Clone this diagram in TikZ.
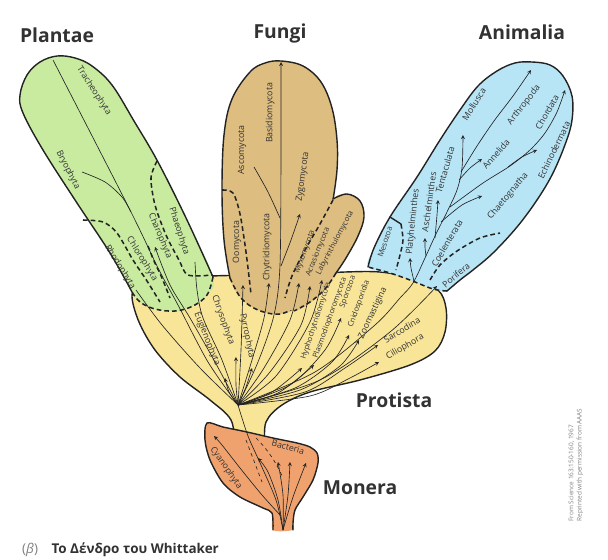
\documentclass[tikz,border=0pt]{standalone}
\usepackage{fontspec}
\setmainfont{Open Sans}
\definecolor{plantgreen}{RGB}{200,235,160}
\definecolor{fungustan}{RGB}{221,189,128}
\definecolor{animalblue}{RGB}{184,229,245}
\definecolor{protistyellow}{RGB}{248,229,152}
\definecolor{moneraorange}{RGB}{240,162,110}
\definecolor{outl}{RGB}{35,35,35}
\definecolor{txt}{RGB}{50,50,50}

\begin{document}
\begin{tikzpicture}[x=0.03cm, y=-0.03cm, every node/.style={font=\fontsize{7.5}{8}\selectfont, text=txt, inner sep=0pt}, rim/.style={draw=outl, line width=1.2pt, line join=round, line cap=round}, seam/.style={draw=outl, line width=1.3pt, dash pattern=on 4pt off 2.6pt}, twig/.style={draw=outl, line width=0.55pt}, arr/.style={twig, ->, >=stealth}, realm/.style={font=\fontsize{16.5}{18}\selectfont\bfseries}, wee/.style={font=\fontsize{6.5}{7}\selectfont}]
    \useasboundingbox (0,0) rectangle (608,560);
    \coordinate (O) at (238,405);
    \coordinate (root) at (283,530);

    % Protista
    \draw[rim, fill=protistyellow] plot[smooth cycle, tension=0.55] coordinates {(238,450) (231,420) (210,400) (180,377) (155,350) (139,322) (132,296) (140,283) (175,279) (212,276) (260,275) (310,274) (345,272) (380,272) (412,278) (438,290) (446,308) (445,332) (435,351) (410,365) (360,380) (310,392) (282,405) (266,422) (262,450)};

    % Plantae
    \fill[plantgreen] plot[smooth cycle, tension=0.6] coordinates {(132,292) (110,253) (77,203) (43,150) (23,113) (20,95) (27,75) (40,62) (57,56) (75,58) (92,66) (112,85) (134,121) (158,162) (187,220) (213,277) (207,295) (193,306) (175,311) (155,309) (140,302)};
    \draw[rim] plot[smooth, tension=0.6] coordinates {(132,292) (110,253) (77,203) (43,150) (23,113) (20,95) (27,75) (40,62) (57,56) (75,58) (92,66) (112,85) (134,121) (158,162) (187,220) (213,277)};
    \draw[seam] plot[smooth, tension=0.6] coordinates {(213,277) (207,295) (193,306) (175,311) (155,309) (140,302) (132,292)};
    \draw[seam] plot[smooth] coordinates {(157,161) (151,178) (155,205) (166,235) (179,260) (188,275) (212,275)};
    \draw[seam] plot[smooth] coordinates {(83,220) (103,222) (117,233) (133,260) (147,281) (160,302)};
    \draw[seam] plot[smooth] coordinates {(148,246) (154,261) (162,278) (170,298)};

    % Fungi
    \fill[fungustan] plot[smooth cycle, tension=0.6] coordinates {(281,61) (303,66) (321,82) (332,108) (337,140) (337,170) (333,200) (326,240) (316,275) (300,305) (280,314) (258,310) (241,298) (230,278) (224,240) (222,190) (224,135) (232,99) (250,72) (265,63)};
    \draw[rim] plot[smooth, tension=0.6] coordinates {(230,278) (224,240) (222,190) (224,135) (232,99) (250,72) (265,63) (281,61) (303,66) (321,82) (332,108) (337,140) (337,170) (333,200)};
    \draw[seam] plot[smooth, tension=0.6] coordinates {(230,278) (241,298) (258,310) (280,314) (300,305)};
    \draw[seam] plot[smooth] coordinates {(222,190) (233,193) (240,214) (246,252) (251,294)};
    \fill[fungustan] plot[smooth cycle, tension=0.6] coordinates {(333,199) (347,194) (360,201) (364,217) (358,236) (346,258) (332,280) (314,300) (294,311) (284,300) (291,276) (305,250) (320,224)};
    \draw[rim] plot[smooth, tension=0.6] coordinates {(333,199) (347,194) (360,201) (364,217) (358,236) (346,258) (336,273)};
    \draw[seam] plot[smooth, tension=0.6] coordinates {(336,273) (325,289) (310,302) (294,311)};
    \draw[seam] plot[smooth, tension=0.6] coordinates {(333,200) (320,224) (305,250) (292,276) (285,298)};

    % Animalia
    \fill[animalblue] plot[smooth cycle, tension=0.6] coordinates {(368,267) (374,248) (390,217) (417,177) (440,140) (460,110) (478,86) (497,71) (515,63) (532,62) (550,65) (563,76) (572,96) (572,120) (566,142) (553,173) (537,200) (517,227) (493,253) (473,270) (460,280) (447,291) (433,289) (410,280) (390,273)};
    \draw[rim] plot[smooth, tension=0.6] coordinates {(368,267) (374,248) (390,217) (417,177) (440,140) (460,110) (478,86) (497,71) (515,63) (532,62) (550,65) (563,76) (572,96) (572,120) (566,142) (553,173) (537,200) (517,227) (493,253) (473,270) (460,280) (447,291)};
    \draw[seam] plot[smooth, tension=0.6] coordinates {(447,291) (433,289) (410,280) (390,273) (368,267)};
    \draw[rim] (390,217) -- (401,224);
    \draw[seam] plot[smooth] coordinates {(401,224) (403,240) (400,255) (396,270)};
    \draw[seam] plot[smooth] coordinates {(430,280) (440,265) (457,251) (480,238) (500,233)};

    % Monera
    \fill[moneraorange] plot[smooth cycle, tension=0.5] coordinates {(207,423) (223,427) (247,432) (273,438) (297,443) (310,447) (317,453) (318,463) (313,480) (303,497) (295,510) (293,523) (293,530) (273,530) (272,513) (263,508) (240,497) (223,483) (210,460) (205,440)};
    \draw[rim] plot[smooth, tension=0.5] coordinates {(293,530) (293,523) (295,510) (303,497) (313,480) (318,463) (317,453) (310,447) (297,443) (273,438) (247,432) (223,427) (207,423) (205,440) (210,460) (223,483) (240,497) (263,508) (272,513) (273,530)};

    % lines of descent
    \draw[twig] plot[smooth] coordinates {(root) (276,500) (261,465) (248,436) (O)};
    \draw[arr] plot[smooth] coordinates {(281,516) (262,495) (240,468) (222,445) (214,436)};
    \draw[twig, dashed] (246,440) -- (262,482);
    \draw[twig, dashed] (256,438) .. controls (268,450) and (276,462) .. (283,478);
    \draw[arr] plot[smooth] coordinates {(root) (278,500) (268,472) (258,458)};
    \draw[arr] plot[smooth] coordinates {(root) (283,495) (278,462)};
    \draw[arr] plot[smooth] coordinates {(root) (288,495) (290,462)};
    \draw[arr] plot[smooth] coordinates {(root) (293,497) (306,463)};

    \draw[twig] plot[smooth] coordinates {(O) (200,368) (162,325) (136,290)};
    \draw[twig] plot[smooth] coordinates {(O) (208,362) (178,305) (158,268) (130,210) (53,60)};
    \draw[twig] plot[smooth] coordinates {(82,172) (105,182) (122,197) (131,212)};
    \draw[arr] plot[smooth] coordinates {(O) (215,362) (190,318) (170,285) (155,247)};
    \draw[twig] plot[smooth] coordinates {(O) (222,360) (203,318) (197,290) (195,262)};
    \draw[arr] plot[smooth] coordinates {(O) (229,392) (225,378)};
    \draw[arr] plot[smooth] coordinates {(O) (236,385) (236,357)};
    \draw[arr] plot[smooth] coordinates {(O) (246,387) (252,368)};

    \draw[arr] plot[smooth] coordinates {(O) (241,350) (243,285)};
    \draw[arr] plot[smooth] coordinates {(O) (252,360) (264,318) (269,283)};
    \draw[arr] plot[smooth] coordinates {(O) (258,362) (274,315) (280,265) (281,150) (281,62)};
    \draw[twig] plot[smooth] coordinates {(280,218) (268,192) (254,167)};
    \draw[arr] plot[smooth] coordinates {(281,266) (291,240) (300,214)};
    \draw[arr] plot[smooth] coordinates {(O) (264,368) (290,320) (299,283)};
    \draw[arr] plot[smooth] coordinates {(O) (270,372) (301,325) (310,286)};
    \draw[arr] plot[smooth] coordinates {(O) (276,376) (310,322) (322,280)};

    \draw[arr] plot[smooth] coordinates {(O) (272,392) (302,368)};
    \draw[arr] plot[smooth] coordinates {(O) (278,393) (314,365)};
    \draw[arr] plot[smooth] coordinates {(O) (290,385) (325,350) (341,318)};
    \draw[arr] plot[smooth] coordinates {(O) (295,388) (332,362) (349,335)};
    \draw[arr] plot[smooth] coordinates {(O) (300,390) (340,366) (359,340)};
    \draw[arr] plot[smooth] coordinates {(O) (305,392) (345,368) (378,345)};
    \draw[arr] plot[smooth] coordinates {(O) (310,396) (350,378) (379,362)};

    \draw[arr] plot[smooth] coordinates {(O) (315,372) (375,325) (400,298) (413,283) (425,258) (436,234) (447,212) (457,190) (462,168) (463,135)};
    \draw[arr] plot[smooth] coordinates {(O) (320,380) (390,332) (437,286)};
    \draw[arr] plot[smooth] coordinates {(461,172) (477,146) (494,121) (513,96) (531,70)};
    \draw[arr] plot[smooth] coordinates {(459,180) (470,168) (482,159)};
    \draw[arr] plot[smooth] coordinates {(450,207) (483,183) (510,166) (530,150) (545,133) (557,112) (565,90)};
    \draw[arr] plot[smooth] coordinates {(508,167) (522,157) (537,150)};
    \draw[arr] plot[smooth] coordinates {(441,222) (462,205) (482,196)};
    \draw[arr] plot[smooth] coordinates {(435,238) (437,215) (438,200)};
    \draw[arr] plot[smooth] coordinates {(426,256) (425,247) (425,238)};
    \draw[arr] plot[smooth] coordinates {(414,281) (411,268) (410,258)};

    % kingdoms
    \node[realm] (plantae) at (57,35) {Plantae};
    \node[realm] (fungi) at (280,33) {Fungi};
    \node[realm] (animalia) at (522,32) {Animalia};
    \node[realm] (protista) at (394,400) {Protista};
    \node[realm] (monera) at (360,488) {Monera};

    % phyla
    \node[rotate=-57] (trach) at (94,91) {Tracheophyta};
    \node[rotate=-63] (bryo) at (68,170) {Bryophyta};
    \node[rotate=-72] (phaeo) at (179,231) {Phaeophyta};
    \node[rotate=-67] (charo) at (160,236) {Charophyta};
    \node[rotate=-58] (chloro) at (142,259) {Chlorophyta};
    \node[rotate=-58] (rhodo) at (120,267) {Rhodophyta};

    \node[rotate=90] (asco) at (242,150) {Ascomycota};
    \node[rotate=90] (basidio) at (270,113) {Basidiomycota};
    \node[rotate=82] (zygo) at (303,177) {Zygomycota};
    \node[rotate=90] (chytrid) at (267,247) {Chytridiomycota};
    \node[rotate=90] (oomy) at (237,242) {Oomycota};
    \node[wee, rotate=70] (myxo) at (305,252) {Myxomycota};
    \node[wee, rotate=68] (acrasio) at (318,252) {Acrasiomycota};
    \node[wee, rotate=62] (labyr) at (335,243) {Labyrinthulomycota};

    \node[rotate=-70] (chryso) at (223,320) {Chrysophyta};
    \node[rotate=-68] (eugleno) at (207,339) {Euglenophyta};
    \node[rotate=-78] (pyrro) at (247,336) {Pyrrophyta};
    \node[wee, rotate=72] (hypho) at (316,321) {Hyphochytridiomycota};
    \node[wee, rotate=70] (plasmo) at (330,318) {Plasmodiophoromycota};
    \node[wee, rotate=70] (sporo) at (348,292) {Sporozoa};
    \node[wee, rotate=70] (cnido) at (359,304) {Cnidosporidia};
    \node[rotate=65] (zoomast) at (373,313) {Zoomastigina};
    \node[rotate=31] (sarco) at (402,330) {Sarcodina};
    \node[rotate=30] (cilio) at (405,347) {Ciliophora};

    \node[wee, rotate=72] (meso) at (385,242) {Mesozoa};
    \node[rotate=84] (platy) at (413,222) {Platyhelminthes};
    \node[rotate=82] (aschel) at (429,202) {Aschelminthes};
    \node[rotate=74] (tenta) at (445,170) {Tentaculata};
    \node[rotate=58] (mollusca) at (474,104) {Mollusca};
    \node[rotate=52] (arthro) at (524,105) {Arthropoda};
    \node[rotate=49] (annel) at (496,154) {Annelida};
    \node[rotate=60] (chorda) at (547,112) {Chordata};
    \node[rotate=50] (chaeto) at (508,196) {Chaetognatha};
    \node[rotate=64] (echino) at (554,150) {Echinodermata};
    \node[rotate=60] (coelen) at (447,243) {Coelenterata};
    \node[rotate=40] (porif) at (456,275) {Porifera};

    \node[rotate=-15] (bact) at (288,447) {Bacteria};
    \node[rotate=-55] (cyano) at (226,468) {Cyanophyta};

    % caption and source
    \node[anchor=west, font=\fontsize{11.5}{13}\selectfont\bfseries] (caption) at (22,550) {\textcolor{gray}{\mdseries(\textit{β})}\quad Το Δένδρο του Whittaker};
    \node[rotate=90, align=left, font=\fontsize{5.5}{7}\selectfont, text=gray] (source) at (576,465) {From Science 163:150-160, 1967\\Reprinted with permission from AAAS};
  \end{tikzpicture}
\end{document}
